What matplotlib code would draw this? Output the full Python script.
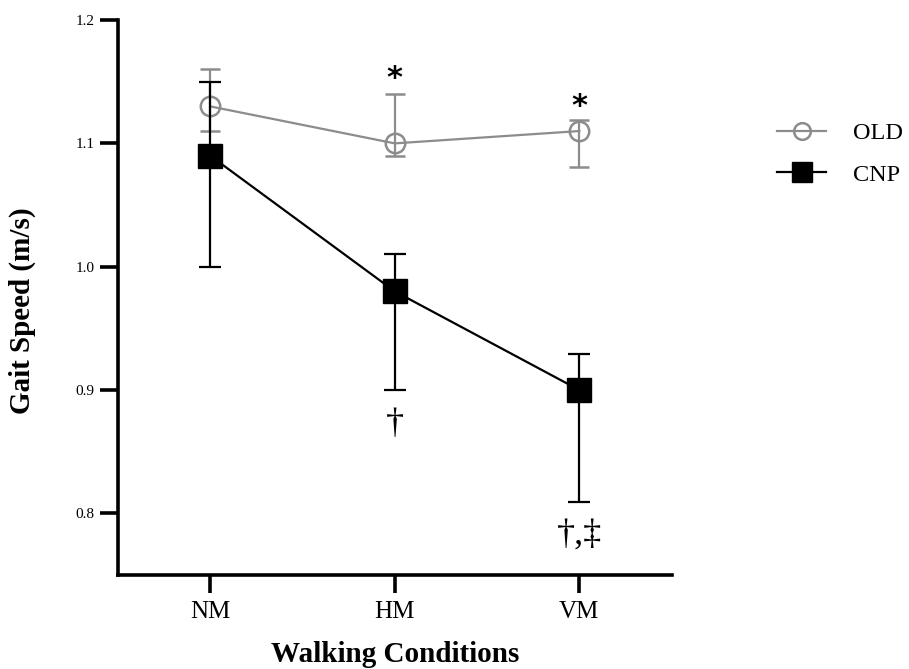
import matplotlib
matplotlib.use('Agg')
import matplotlib.pyplot as plt
from matplotlib.lines import Line2D

plt.rcParams['font.family'] = ['Liberation Serif', 'DejaVu Serif']

conditions = ['NM', 'HM', 'VM']
old_mean = [1.13, 1.10, 1.11]
old_upper = [1.16, 1.14, 1.119]
old_lower = [1.11, 1.09, 1.081]
cnp_mean = [1.09, 0.98, 0.90]
cnp_upper = [1.15, 1.01, 0.929]
cnp_lower = [1.00, 0.90, 0.809]
yticks = [0.8, 0.9, 1.0, 1.1, 1.2]

# significance marks: (x index, y value, text)
marks = [(1, 1.153, '*'), (2, 1.130, '*'), (1, 0.872, '\u2020'), (2, 0.782, '\u2020,\u2021')]

x = list(range(len(conditions)))
grey = '#8c8c8c'

fig = plt.figure(figsize=(9.09, 6.69), dpi=100)
ax = fig.add_axes([0.1298, 0.1405, 0.609, 0.8295])

old_err = [[m - l for m, l in zip(old_mean, old_lower)],
           [u - m for m, u in zip(old_mean, old_upper)]]
cnp_err = [[m - l for m, l in zip(cnp_mean, cnp_lower)],
           [u - m for m, u in zip(cnp_mean, cnp_upper)]]

ax.errorbar(x, old_mean, yerr=old_err, color=grey, lw=1.6, elinewidth=1.6,
            capsize=7, capthick=1.6, marker='o', ms=14, mfc='none',
            mec=grey, mew=1.8, zorder=2)
ax.errorbar(x, cnp_mean, yerr=cnp_err, color='black', lw=1.6, elinewidth=1.6,
            capsize=8, capthick=1.6, marker='s', ms=17, mfc='black',
            mec='black', zorder=3)

for xi, yi, s in marks:
    if s == '*':
        ax.text(xi, yi, s, ha='center', va='center', fontsize=22,
                fontweight='bold', family='DejaVu Sans')
    else:
        ax.text(xi, yi, s, ha='center', va='center', fontsize=26)

ax.set_xlim(-0.5, 2.5)
ax.set_ylim(0.75, 1.2)
ax.set_xticks(x)
ax.set_xticklabels(conditions, fontsize=18)
ax.set_yticks(yticks)
ax.set_yticklabels([f'{v:.1f}' for v in yticks], fontsize=11)

for side in ['top', 'right']:
    ax.spines[side].set_visible(False)
for side in ['left', 'bottom']:
    ax.spines[side].set_linewidth(2.6)
ax.tick_params(axis='both', width=2.6, length=13, direction='out')
ax.tick_params(axis='y', pad=4)
ax.tick_params(axis='x', pad=6)

ax.set_xlabel('Walking Conditions', fontsize=21, fontweight='bold', labelpad=13)
ax.set_ylabel('Gait Speed (m/s)', fontsize=21, fontweight='bold')
ax.yaxis.set_label_coords(-0.148, 0.476)

handles = [Line2D([], [], color=grey, lw=1.6, marker='o', ms=12, mfc='none', mec=grey, mew=1.8),
           Line2D([], [], color='black', lw=1.6, marker='s', ms=14, mfc='black', mec='black')]
fig.legend(handles, ['OLD', 'CNP'], loc='upper left', bbox_to_anchor=(0.831, 0.85),
           frameon=False, fontsize=17.5, handlelength=2.0, handletextpad=1.1,
           labelspacing=0.8)

fig.savefig('out.png', dpi=100)
